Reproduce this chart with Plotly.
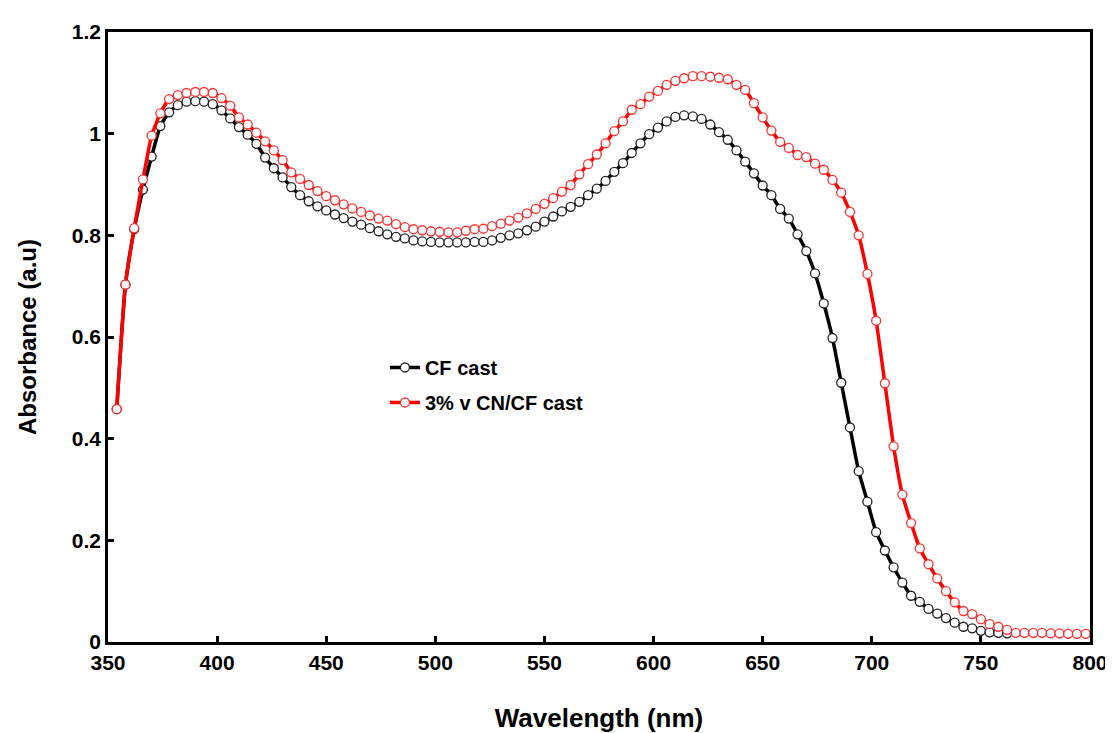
import plotly.graph_objects as go

wl_red = [354, 358, 362, 366, 370, 374, 378, 382, 386, 390, 394, 398, 402, 406, 410, 414, 418, 422, 426, 430,
          434, 438, 442, 446, 450, 454, 458, 462, 466, 470, 474, 478, 482, 486, 490, 494, 498, 502, 506, 510,
          514, 518, 522, 526, 530, 534, 538, 542, 546, 550, 554, 558, 562, 566, 570, 574, 578, 582, 586, 590,
          594, 598, 602, 606, 610, 614, 618, 622, 626, 630, 634, 638, 642, 646, 650, 654, 658, 662, 666, 670,
          674, 678, 682, 686, 690, 694, 698, 702, 706, 710, 714, 718, 722, 726, 730, 734, 738, 742, 746, 750,
          754, 758, 762, 766, 770, 774, 778, 782, 786, 790, 794, 798]
abs_red = [0.458, 0.703, 0.814, 0.910, 0.996, 1.040, 1.068, 1.076, 1.080, 1.082, 1.082, 1.080, 1.070, 1.055, 1.032,
           1.018, 1.002, 0.985, 0.967, 0.948, 0.924, 0.911, 0.899, 0.887, 0.877, 0.869, 0.861, 0.853, 0.846, 0.839,
           0.833, 0.829, 0.822, 0.816, 0.812, 0.810, 0.808, 0.807, 0.806, 0.806, 0.809, 0.812, 0.813, 0.818, 0.823,
           0.829, 0.835, 0.843, 0.852, 0.862, 0.873, 0.886, 0.899, 0.920, 0.940, 0.959, 0.981, 1.005, 1.024, 1.047,
           1.058, 1.073, 1.084, 1.096, 1.104, 1.109, 1.113, 1.113, 1.112, 1.110, 1.107, 1.096, 1.086, 1.060, 1.032,
           1.006, 0.984, 0.972, 0.958, 0.954, 0.941, 0.929, 0.909, 0.884, 0.846, 0.800, 0.724, 0.632, 0.509, 0.385,
           0.290, 0.234, 0.184, 0.153, 0.125, 0.100, 0.078, 0.061, 0.055, 0.045, 0.035, 0.030, 0.024, 0.018, 0.018,
           0.018, 0.018, 0.017, 0.017, 0.016, 0.016, 0.016]

wl_black = [354, 358, 362, 366, 370, 374, 378, 382, 386, 390, 394, 398, 402, 406, 410, 414, 418, 422, 426, 430,
            434, 438, 442, 446, 450, 454, 458, 462, 466, 470, 474, 478, 482, 486, 490, 494, 498, 502, 506, 510,
            514, 518, 522, 526, 530, 534, 538, 542, 546, 550, 554, 558, 562, 566, 570, 574, 578, 582, 586, 590,
            594, 598, 602, 606, 610, 614, 618, 622, 626, 630, 634, 638, 642, 646, 650, 654, 658, 662, 666, 670,
            674, 678, 682, 686, 690, 694, 698, 702, 706, 710, 714, 718, 722, 726, 730, 734, 738, 742, 746, 750,
            754, 758, 762]
abs_black = [0.458, 0.703, 0.812, 0.890, 0.955, 1.015, 1.042, 1.056, 1.063, 1.064, 1.063, 1.058, 1.046, 1.030, 1.013,
             0.998, 0.980, 0.953, 0.932, 0.914, 0.895, 0.879, 0.867, 0.857, 0.849, 0.841, 0.834, 0.827, 0.821, 0.814,
             0.808, 0.802, 0.797, 0.794, 0.790, 0.788, 0.787, 0.786, 0.786, 0.786, 0.786, 0.787, 0.787, 0.790, 0.795,
             0.800, 0.804, 0.810, 0.817, 0.827, 0.837, 0.847, 0.856, 0.866, 0.879, 0.892, 0.907, 0.925, 0.942, 0.962,
             0.981, 0.999, 1.012, 1.024, 1.033, 1.036, 1.034, 1.029, 1.018, 1.003, 0.988, 0.967, 0.945, 0.922, 0.898,
             0.879, 0.852, 0.833, 0.802, 0.769, 0.725, 0.666, 0.598, 0.510, 0.422, 0.336, 0.276, 0.216, 0.180, 0.147,
             0.117, 0.091, 0.079, 0.065, 0.056, 0.047, 0.038, 0.030, 0.027, 0.022, 0.019, 0.018, 0.017]

series_names = ["CF cast", "3% v CN/CF cast"]
x_ticks = [350, 400, 450, 500, 550, 600, 650, 700, 750, 800]
y_ticks = [0, 0.2, 0.4, 0.6, 0.8, 1.0, 1.2]
y_tick_text = ["0", "0.2", "0.4", "0.6", "0.8", "1", "1.2"]

FONT = "Liberation Sans, Arial, sans-serif"

fig = go.Figure()
fig.add_trace(go.Scatter(
    x=wl_black, y=abs_black, name=series_names[0], mode="lines+markers", legendgroup="a",
    line=dict(color="black", width=3.5, shape="spline", smoothing=0.5),
    marker=dict(symbol="circle", size=9, color="white", line=dict(color="#222222", width=1.3)),
))
fig.add_trace(go.Scatter(
    x=wl_red, y=abs_red, name=series_names[1], mode="lines+markers", legendgroup="b",
    line=dict(color="#FF0000", width=3.5, shape="spline", smoothing=0.5),
    marker=dict(symbol="circle", size=9, color="white", line=dict(color="#FF3030", width=1.3)),
))

axis_common = dict(
    showline=True, linecolor="black", linewidth=2.5, mirror=True,
    ticks="inside", ticklen=6, tickwidth=2.5, tickcolor="black",
    showgrid=False, zeroline=False,
    tickfont=dict(family=FONT, size=21, color="black", weight="bold"),
)

fig.update_xaxes(
    range=[350, 800], tickvals=x_ticks, ticktext=[str(v) for v in x_ticks],
    title=dict(text="<b>Wavelength (nm)</b>", font=dict(family=FONT, size=26, color="black"), standoff=36),
    **axis_common,
)
fig.update_yaxes(
    range=[0, 1.2], tickvals=y_ticks, ticktext=y_tick_text,
    title=dict(text="<b>Absorbance (a.u)</b>", font=dict(family=FONT, size=24, color="black"), standoff=29),
    **axis_common,
)

fig.update_layout(
    width=1113, height=733,
    margin=dict(l=100, r=31, t=16, b=99),
    paper_bgcolor="white", plot_bgcolor="white",
    legend=dict(
        x=0.282, y=0.482, xanchor="left", yanchor="top",
        bgcolor="rgba(0,0,0,0)", borderwidth=0,
        font=dict(family=FONT, size=20, color="black", weight="bold"),
        itemwidth=30, tracegroupgap=6,
    ),
    showlegend=True,
)

fig.write_html("out.html")
